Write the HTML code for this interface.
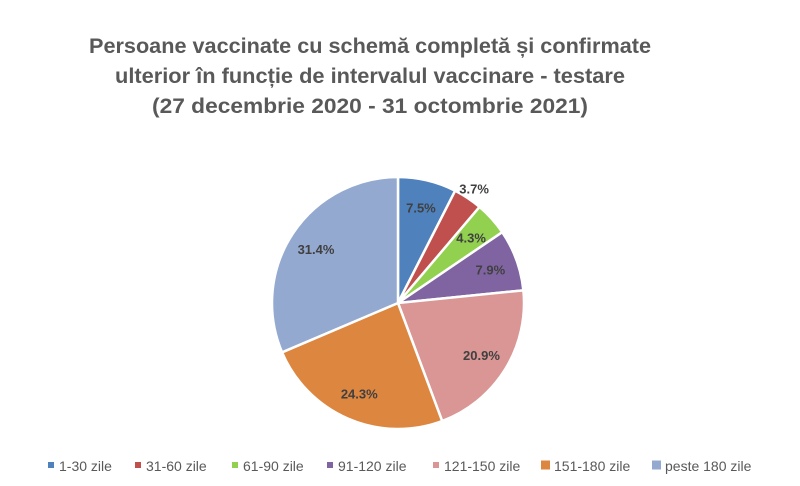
<!DOCTYPE html>
<html><head><meta charset="utf-8"><style>
html,body{margin:0;padding:0;background:#fff;}
svg{display:block;font-family:"Liberation Sans",sans-serif;}
</style></head><body>
<svg id="chart" width="800" height="486" viewBox="0 0 800 486">
<g font-weight="bold" font-size="21" fill="#595959" text-anchor="middle">
<text x="370" y="53" textLength="562" lengthAdjust="spacingAndGlyphs">Persoane vaccinate cu schemă completă și confirmate</text>
<text x="370" y="83" textLength="510" lengthAdjust="spacingAndGlyphs">ulterior în funcție de intervalul vaccinare - testare</text>
<text x="370" y="113" textLength="436" lengthAdjust="spacingAndGlyphs">(27 decembrie 2020 - 31 octombrie 2021)</text>
</g>
<g id="slices"></g>
<g id="labels"></g>
<g id="legend"></g>
</svg>
<script>
const categories = ["1-30 zile","31-60 zile","61-90 zile","91-120 zile","121-150 zile","151-180 zile","peste 180 zile"];
const values = [7.5,3.7,4.3,7.9,20.9,24.3,31.4];
const valueLabels = ["7.5%","3.7%","4.3%","7.9%","20.9%","24.3%","31.4%"];
const colors = ["#4f81bd","#c0504d","#92d050","#8064a2","#d99694","#dd8640","#93a9d0"];
const NS="http://www.w3.org/2000/svg";
const cx=398, cy=303, R=126;
const total=values.reduce((a,b)=>a+b,0);
const gS=document.getElementById('slices'), gL=document.getElementById('labels'), gG=document.getElementById('legend');
function pt(a,r){return [cx+r*Math.sin(a), cy-r*Math.cos(a)];}
let acc=0;
values.forEach((v,i)=>{
  const a0=acc/total*2*Math.PI; acc+=v; const a1=acc/total*2*Math.PI;
  const p0=pt(a0,R), p1=pt(a1,R);
  const large=(a1-a0)>Math.PI?1:0;
  const path=document.createElementNS(NS,'path');
  path.setAttribute('d',`M${cx},${cy} L${p0[0]},${p0[1]} A${R},${R} 0 ${large} 1 ${p1[0]},${p1[1]} Z`);
  path.setAttribute('fill',colors[i]);
  path.setAttribute('stroke','#fff');
  path.setAttribute('stroke-width','2.5');
  
  
  gS.appendChild(path);
  const am=(a0+a1)/2;
  const lr = v/total<0.04 ? R*1.09 : R*0.78;
  const lp=pt(am,lr);
  const t=document.createElementNS(NS,'text');
  t.setAttribute('x',lp[0]); t.setAttribute('y',lp[1]+5);
  t.setAttribute('text-anchor','middle');
  t.setAttribute('font-size','13'); t.setAttribute('font-weight','bold');
  t.setAttribute('fill','#404040');
  
  
  t.textContent=valueLabels[i];
  gL.appendChild(t);
});
// legend
const legX=[48,135,232,327,433,543,654];
categories.forEach((c,i)=>{
  const big=i>=5;
  const r=document.createElementNS(NS,'rect');
  const s=big?9:6;
  r.setAttribute('x',legX[i]+(big?-2:0)); r.setAttribute('y',466-s/2-1);
  r.setAttribute('width',s); r.setAttribute('height',s);
  r.setAttribute('fill',colors[i]);
  
  
  gG.appendChild(r);
  const t=document.createElementNS(NS,'text');
  t.setAttribute('x',legX[i]+11); t.setAttribute('y',471);
  t.setAttribute('font-size','14'); t.setAttribute('fill','#595959');
  
  
  t.textContent=c;
  gG.appendChild(t);
});
</script>
</body></html>
